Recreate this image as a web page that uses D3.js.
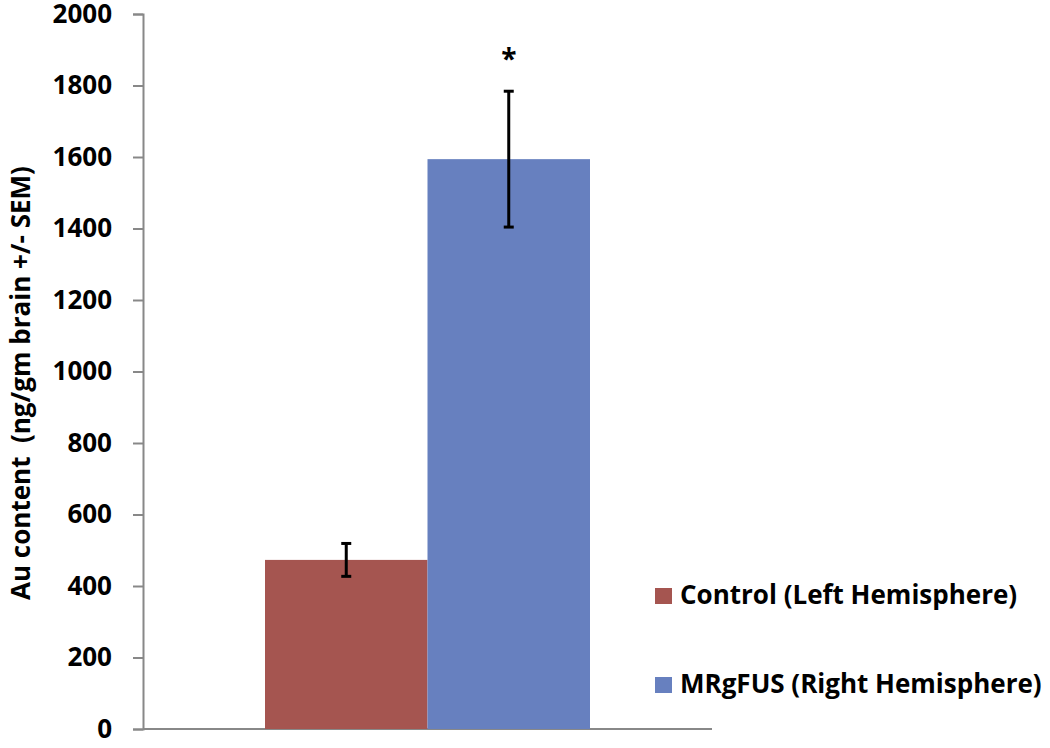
<!DOCTYPE html>
<html>
<head>
<meta charset="utf-8">
<script src="https://cdn.jsdelivr.net/npm/d3@7"></script>
<style>
  body { margin: 0; background: #fff; }
  svg { display: block; }
  text { font-family: "Open Sans", Lato, sans-serif; font-weight: bold; fill: #000; }
</style>
</head>
<body>
<script>
// data
var groups = ['Control (Left Hemisphere)', 'MRgFUS (Right Hemisphere)'];
var means = [473, 1594];
var sems = [46, 190];
var colors = ['#a55550', '#6780bf'];
var yTicks = [0, 200, 400, 600, 800, 1000, 1200, 1400, 1600, 1800, 2000];
var marks = ['', '*'];

var width = 1050, height = 748;
var margin = { left: 143, top: 14, bottom: 19 };
var plotRight = 712;

var svg = d3.select('body').append('svg')
    .attr('width', width)
    .attr('height', height);

var y = d3.scaleLinear()
    .domain([0, 2000])
    .range([height - margin.bottom, margin.top]);

var x = d3.scaleBand()
    .domain(groups)
    .range([265, 590])
    .paddingInner(0);

// y axis
var yAxis = svg.append('g')
    .attr('transform', 'translate(' + margin.left + ',0)')
    .call(d3.axisLeft(y).tickValues(yTicks).tickFormat(d3.format('d')).tickSize(10).tickPadding(21));
yAxis.select('.domain').attr('stroke', '#888').attr('stroke-width', 2);
yAxis.selectAll('.tick line').attr('stroke', '#888').attr('stroke-width', 2);
yAxis.selectAll('.tick text')
    .style('font-family', '"Open Sans", sans-serif')
    .style('font-weight', 'bold')
    .style('font-size', '26px')
    .attr('fill', '#000');

// x axis baseline
svg.append('line')
    .attr('x1', margin.left).attr('x2', plotRight)
    .attr('y1', y(0)).attr('y2', y(0))
    .attr('stroke', '#888').attr('stroke-width', 2);

// bars
svg.selectAll('rect.bar')
    .data(groups)
    .enter().append('rect')
    .attr('class', 'bar')
    .attr('x', function(d) { return x(d) })
    .attr('width', x.bandwidth())
    .attr('y', function(d, i) { return y(means[i]) })
    .attr('height', function(d, i) { return y(0) - y(means[i]) })
    .attr('fill', function(d, i) { return colors[i] });

// error bars
var err = svg.selectAll('g.err')
    .data(groups)
    .enter().append('g')
    .attr('class', 'err')
    .attr('transform', function(d) { return 'translate(' + (x(d) + x.bandwidth() / 2) + ',0)' });
err.append('line')
    .attr('y1', function(d, i) { return y(means[i] - sems[i]) })
    .attr('y2', function(d, i) { return y(means[i] + sems[i]) })
    .attr('stroke', '#000').attr('stroke-width', 3);
err.append('line')
    .attr('x1', -5).attr('x2', 5)
    .attr('y1', function(d, i) { return y(means[i] + sems[i]) })
    .attr('y2', function(d, i) { return y(means[i] + sems[i]) })
    .attr('stroke', '#000').attr('stroke-width', 3);
err.append('line')
    .attr('x1', -5).attr('x2', 5)
    .attr('y1', function(d, i) { return y(means[i] - sems[i]) })
    .attr('y2', function(d, i) { return y(means[i] - sems[i]) })
    .attr('stroke', '#000').attr('stroke-width', 3);

// significance mark
err.append('text')
    .attr('y', function(d, i) { return y(means[i] + sems[i]) - 22 })
    .attr('text-anchor', 'middle')
    .style('font-size', '28px')
    .text(function(d, i) { return marks[i] });

// y label
svg.append('text')
    .attr('transform', 'translate(30,' + 383 + ') rotate(-90)')
    .attr('text-anchor', 'middle')
    .style('font-size', '26px')
    .attr('xml:space', 'preserve')
    .text('Au content  (ng/gm brain +/- SEM)');

// legend
var legend = svg.selectAll('g.legend')
    .data(groups)
    .enter().append('g')
    .attr('class', 'legend')
    .attr('transform', function(d, i) { return 'translate(655,' + (604 + i * 89) + ')' });
legend.append('rect')
    .attr('y', -16).attr('width', 17).attr('height', 16)
    .attr('fill', function(d, i) { return colors[i] });
legend.append('text')
    .attr('x', 25).attr('y', 0)
    .style('font-size', '26px')
    .text(function(d) { return d });
</script>
</body>
</html>
